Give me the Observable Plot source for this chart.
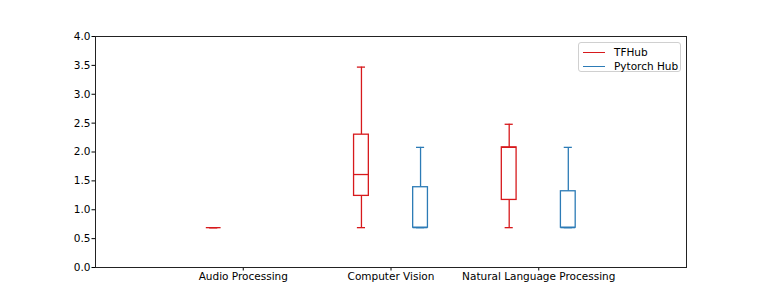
<!DOCTYPE html>
<html><head><meta charset="utf-8">
<script src="https://cdn.jsdelivr.net/npm/d3@7"></script>
<script src="https://cdn.jsdelivr.net/npm/@observablehq/plot@0.6"></script>
<style>
body{margin:0;background:#fff;}
#wrap{position:relative;width:763px;height:305px;font-family:"DejaVu Sans",sans-serif;}
#legend{position:absolute;left:578px;top:42px;width:101px;height:28px;border:1px solid #d0d0d0;border-radius:3px;background:rgba(255,255,255,0.8);font-size:10.5px;color:#000;}
.item{position:absolute;left:4px;display:flex;align-items:center;height:12px;}
.sw{width:22px;height:0;border-top:1.3px solid;margin-right:9px;}
</style></head>
<body><div id="wrap"><div id="legend"></div></div>
<script>
const categories = ["Audio Processing", "Computer Vision", "Natural Language Processing"];
const series = ["TFHub", "Pytorch Hub"];
const colors = ["#D7191C", "#2C7BB6"];
const yTicks = [0.0, 0.5, 1.0, 1.5, 2.0, 2.5, 3.0, 3.5, 4.0];

// TFHub box statistics per category
const tfMin = [0.69, 0.69, 0.69];
const tfQ1  = [0.69, 1.24, 1.17];
const tfMed = [0.69, 1.61, 2.08];
const tfQ3  = [0.69, 2.30, 2.08];
const tfMax = [0.69, 3.47, 2.48];
// Pytorch Hub box statistics per category (no audio data)
const ptMin = [null, 0.69, 0.69];
const ptQ1  = [null, 0.69, 0.69];
const ptMed = [null, 0.69, 0.69];
const ptQ3  = [null, 1.39, 1.32];
const ptMax = [null, 2.08, 2.08];

const rows = [];
categories.forEach((c, i) => {
  rows.push({cat: c, s: series[0], pos: 2 * i - 0.4, min: tfMin[i], q1: tfQ1[i], med: tfMed[i], q3: tfQ3[i], max: tfMax[i]});
  if (ptMin[i] != null) rows.push({cat: c, s: series[1], pos: 2 * i + 0.4, min: ptMin[i], q1: ptQ1[i], med: ptMed[i], q3: ptQ3[i], max: ptMax[i]});
});

const hw = 0.1, cw = 0.055, sw = 1.3;
const chart = Plot.plot({
  width: 763, height: 305,
  marginLeft: 95, marginRight: 77, marginTop: 36, marginBottom: 38,
  style: {fontFamily: "'DejaVu Sans', sans-serif", fontSize: "10.5px", color: "#000", background: "#fff"},
  x: {domain: [-2, 6], ticks: categories.map((_, i) => 2 * i), tickFormat: v => categories[Math.round(v / 2)], tickSize: 3.5, tickPadding: 2, label: null},
  y: {domain: [0, 4], ticks: yTicks, tickFormat: d => d.toFixed(1), tickSize: 3.5, tickPadding: 1.5, label: null},
  color: {domain: series, range: colors},
  marks: [
    Plot.ruleX(rows, {x: "pos", y1: "min", y2: "q1", stroke: "s", strokeWidth: sw}),
    Plot.ruleX(rows, {x: "pos", y1: "q3", y2: "max", stroke: "s", strokeWidth: sw}),
    Plot.rect(rows, {x1: d => d.pos - hw, x2: d => d.pos + hw, y1: "q1", y2: "q3", stroke: "s", fill: "white", strokeWidth: sw}),
    Plot.ruleY(rows, {y: "med", x1: d => d.pos - hw, x2: d => d.pos + hw, stroke: "s", strokeWidth: sw}),
    Plot.ruleY(rows, {y: "min", x1: d => d.pos - cw, x2: d => d.pos + cw, stroke: "s", strokeWidth: sw}),
    Plot.ruleY(rows, {y: "max", x1: d => d.pos - cw, x2: d => d.pos + cw, stroke: "s", strokeWidth: sw}),
    Plot.frame({stroke: "#222", strokeWidth: 1})
  ]
});
const wrap = document.getElementById("wrap");
wrap.insertBefore(chart, wrap.firstChild);

const legend = document.getElementById("legend");
series.forEach((s, i) => {
  const it = document.createElement("div");
  it.className = "item";
  it.style.top = (3 + i * 14) + "px";
  const w = document.createElement("div");
  w.className = "sw";
  w.style.borderTopColor = colors[i];
  const t = document.createElement("span");
  t.textContent = s;
  it.appendChild(w); it.appendChild(t);
  legend.appendChild(it);
});
</script></body></html>
